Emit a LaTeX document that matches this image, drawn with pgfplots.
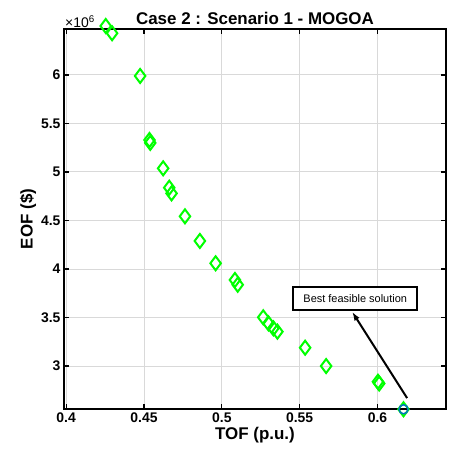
\documentclass[border=0pt]{standalone}
\usepackage{pgfplots}
\pgfplotsset{compat=1.18}
\usetikzlibrary{arrows.meta}
\usepackage{fontspec}
\setmainfont{Liberation Sans}
\definecolor{mgreen}{RGB}{0,255,0}
\definecolor{mblue}{RGB}{0,114,189}
\begin{document}
\begin{tikzpicture}[x=1bp,y=1bp]
\begin{axis}[
    at={(0,0)}, anchor=south west,
    scale only axis, width=382bp, height=380bp,
    xmin=0.3986, xmax=0.644,
    ymin=2.557e6, ymax=6.474e6,
    xtick={0.4,0.45,...,0.6},
    ytick={3e6,3.5e6,4e6,4.5e6,5e6,5.5e6,6e6},
    scaled y ticks=base 10:-6,
    ytick scale label code/.code={×10\textsuperscript{6}},
    /pgf/number format/assume math mode=true,
    ticklabel style={font=\fontsize{14}{16}\selectfont\bfseries},
    every y tick scale label/.style={at={(rel axis cs:0,1)}, anchor=south west,
        inner sep=1pt, font=\fontsize{14}{16}\selectfont},
    xlabel={\bfseries TOF (p.u.)}, ylabel={\bfseries EOF (\$)},
    label style={font=\fontsize{17}{19}\selectfont},
    xlabel style={yshift=2bp}, ylabel style={yshift=-2bp},
    title={\bfseries Case 2 : Scenario 1 - MOGOA},
    title style={font=\fontsize{17}{19}\selectfont, yshift=-5bp},
    grid=major, grid style={gray!30, line width=1bp},
    tick align=inside, major tick length=5bp,
    tick style={black, line width=1.2bp},
    axis line style={line width=2bp},
    clip=false,
]
\addplot[only marks, mark=diamond, mark size=7bp, mgreen, line width=2bp] coordinates {
(0.4254,6.505e6) (0.4295,6.43e6) (0.4475,5.99e6) (0.4535,5.33e6) (0.4540,5.30e6)
(0.4623,5.038e6) (0.4662,4.838e6) (0.4677,4.78e6) (0.4763,4.543e6) (0.4859,4.289e6)
(0.4960,4.059e6) (0.5084,3.887e6) (0.5102,3.838e6) (0.5266,3.502e6) (0.5299,3.44e6)
(0.5331,3.389e6) (0.5357,3.354e6) (0.5535,3.189e6) (0.5670,3.0e6) (0.6003,2.838e6)
(0.6011,2.82e6) (0.6167,2.554e6)
};
\addplot[only marks, mark=o, mark size=4.5bp, mblue, line width=1.5bp] coordinates {(0.6167,2.554e6)};
\draw[-{Latex[length=9bp,width=6bp]}, line width=2bp] (axis cs:0.619,2.67e6) -- (axis cs:0.5837,3.56e6);
\node[draw, line width=2bp, fill=white, font=\fontsize{11}{12}\selectfont,
      minimum width=124bp, minimum height=23bp, inner sep=2bp]
      at (axis cs:0.5857,3.70e6) {Best feasible solution};
\end{axis}
\pgfresetboundingbox
\path[use as bounding box] (-64bp,-54bp) rectangle (386bp,409bp);
\end{tikzpicture}
\end{document}
